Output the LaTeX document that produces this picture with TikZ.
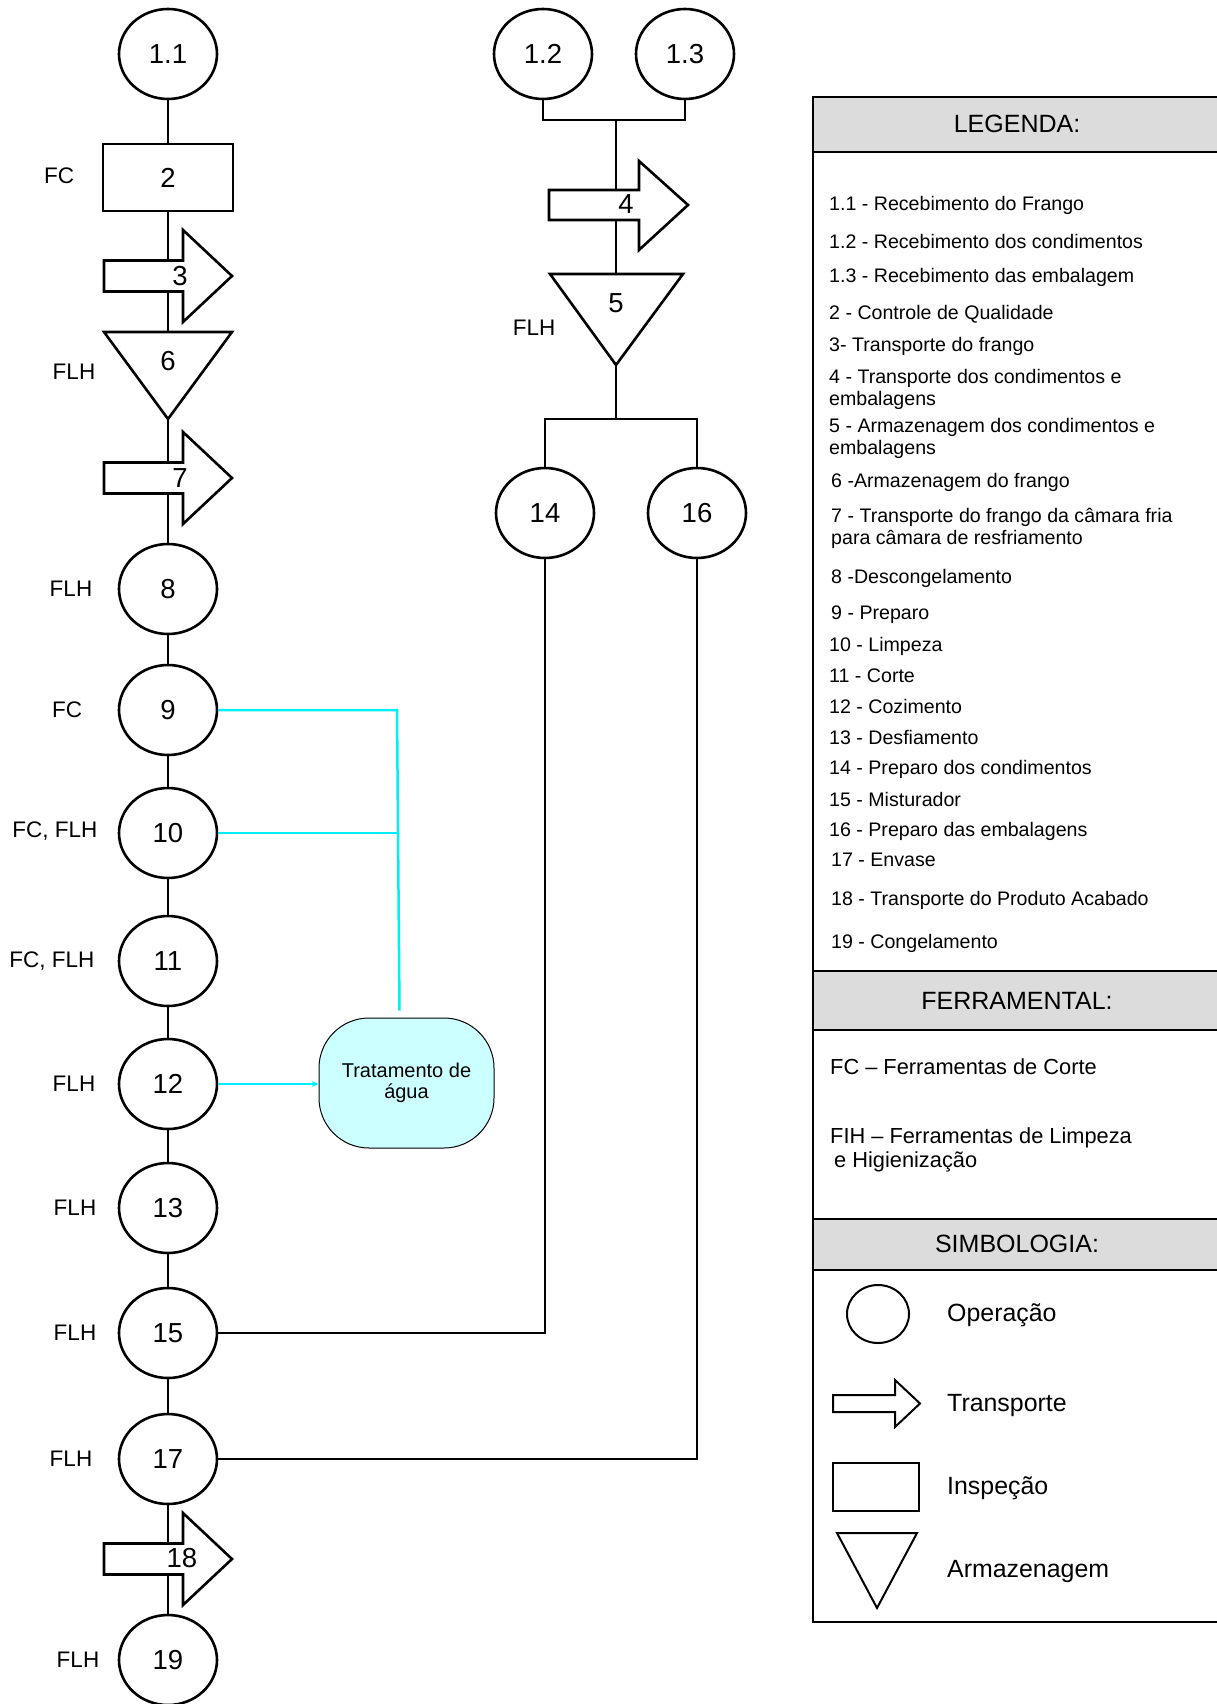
\documentclass[tikz,border=0pt]{standalone}
\usepackage{fontspec}
\setmainfont{Liberation Sans}
\usetikzlibrary{shapes.geometric,arrows.meta}
\definecolor{hdrgray}{RGB}{220,220,220}
\definecolor{watercyan}{RGB}{204,255,255}
\definecolor{linecyan}{RGB}{0,238,255}
\tikzset{
  op/.style={ellipse, draw, line width=2.6pt, minimum width=98pt, minimum height=90pt, inner sep=0pt, fill=white, font=\fontsize{27.5}{30}\selectfont},
  inspbox/.style={rectangle, draw, line width=2.6pt, minimum width=130pt, minimum height=67pt, inner sep=0pt, fill=white, font=\fontsize{27.5}{30}\selectfont},
  flow/.style={line width=2.6pt},
  shp/.style={draw, line width=2.6pt, fill=white, line join=miter},
  num/.style={inner sep=0pt, font=\fontsize{27.5}{30}\selectfont},
  lbl/.style={inner sep=0pt, font=\fontsize{22.5}{25}\selectfont},
  leg/.style={anchor=base west, inner sep=0pt, font=\fontsize{19.6}{21}\selectfont},
  ferr/.style={anchor=base west, inner sep=0pt, font=\fontsize{21.8}{24}\selectfont},
  hdr/.style={anchor=base, inner sep=0pt, font=\fontsize{25}{28}\selectfont},
  sym/.style={anchor=base west, inner sep=0pt, font=\fontsize{24.9}{28}\selectfont},
  panel/.style={line width=1.8pt},
  symshp/.style={draw, line width=2pt, fill=white, line join=miter},
  cyanline/.style={line width=2.5pt, draw=linecyan},
  transp/.pic={\draw[shp] (-64,-15.5) -- (15,-15.5) -- (15,-46) -- (64,0) -- (15,46) -- (15,15.5) -- (-64,15.5) -- cycle;}
}
\begin{document}
\begin{tikzpicture}[x=1pt,y=-1pt]
\useasboundingbox (0,0) rectangle (1217,1704);
\fill[white] (0,0) rectangle (1217,1704);

% ---------- left column nodes ----------
\node[op] (o1a) at (168,54) {1.1};
\node[inspbox] (b2) at (168,177.5) {2};
\coordinate (t6top) at (168,332);
\coordinate (t6bot) at (168,419);
\node[op] (o8) at (168,589) {8};
\node[op] (o9) at (168,710) {9};
\node[op] (o10) at (168,833) {10};
\node[op] (o11) at (168,961) {11};
\node[op] (o12) at (168,1084) {12};
\node[op] (o13) at (168,1208) {13};
\node[op] (o15) at (168,1333) {15};
\node[op] (o17) at (168,1459) {17};
\node[op] (o19) at (168,1660) {19};

% ---------- middle column nodes ----------
\node[op] (o1b) at (543,54) {1.2};
\node[op] (o1c) at (685,54) {1.3};
\coordinate (jt) at (616,120);
\coordinate (t5top) at (616,274);
\coordinate (t5bot) at (616,365);
\coordinate (js) at (616,419);
\node[op] (o14) at (545,513) {14};
\node[op] (o16) at (697,513) {16};

% ---------- water treatment ----------
\node[draw, line width=1pt, fill=watercyan, rounded corners=50pt, minimum width=175pt, minimum height=130pt, align=center, inner sep=0pt, font=\fontsize{20}{21.5}\selectfont] (tr) at (406.5,1083) {Tratamento de\\água};

% ---------- black connectors ----------
\draw[flow] (o1a) -- (b2);
\draw[flow] (b2) -- (t6top);
\draw[flow] (t6bot) -- (o8);
\draw[flow] (o8) -- (o9);
\draw[flow] (o9) -- (o10);
\draw[flow] (o10) -- (o11);
\draw[flow] (o11) -- (o12);
\draw[flow] (o12) -- (o13);
\draw[flow] (o13) -- (o15);
\draw[flow] (o15) -- (o17);
\draw[flow] (o17) -- (o19);
\draw[flow] (o1b.south) |- (jt) -| (o1c.south);
\draw[flow] (jt) -- (t5top);
\draw[flow] (t5bot) -- (js);
\draw[flow] (o14.north) |- (js) -| (o16.north);
\draw[flow] (o14.south) |- (o15.east);
\draw[flow] (o16.south) |- (o17.east);

% ---------- cyan connectors ----------
\coordinate (cj) at (397,710);
\draw[cyanline] (o9.east) -- (cj) -- ([shift={(-7,-7)}]tr.north);
\draw[cyanline] (o10.east) -- (o10.east -| cj);
\draw[cyanline, -{Stealth[length=7pt,width=6pt]}] (o12.east) -- (o12.east -| tr.west);

% ---------- triangles (storage) ----------
\draw[shp] (104,332) -- (232,332) -- (t6bot) -- cycle;
\node[num] (n6) at (168,361) {6};
\draw[shp] (550,274) -- (683,274) -- (t5bot) -- cycle;
\node[num] (n5) at (616,303) {5};

% ---------- transport arrows ----------
\pic at (168,276) {transp};
\node[num] (n3) at (180,276) {3};
\pic at (168,478) {transp};
\node[num] (n7) at (180,478) {7};
\pic at (168,1559) {transp};
\node[num] (n18) at (182,1558) {18};
\draw[shp] (549,190) -- (639,190) -- (639,161) -- (688,205) -- (639,250) -- (639,220) -- (549,220) -- cycle;
\node[num] (n4) at (626,204) {4};

% ---------- tool labels ----------
\node[lbl] (f2) at (59,176) {FC};
\node[lbl] (f6) at (74,372) {FLH};
\node[lbl] (f5) at (534,328) {FLH};
\node[lbl] (f8) at (71,589) {FLH};
\node[lbl] (f9) at (67,710) {FC};
\node[lbl] (f10) at (55,831) {FC, FLH};
\node[lbl] (f11) at (52,961) {FC, FLH};
\node[lbl] (f12) at (74,1084) {FLH};
\node[lbl] (f13) at (75,1208) {FLH};
\node[lbl] (f15) at (75,1333) {FLH};
\node[lbl] (f17) at (71,1459) {FLH};
\node[lbl] (f19) at (78,1660) {FLH};

% ---------- legend panel ----------
\fill[hdrgray] (813,97) rectangle (1240,152);
\fill[hdrgray] (813,971) rectangle (1240,1030);
\fill[hdrgray] (813,1219) rectangle (1240,1270);
\draw[panel] (1240,97) -- (813,97) -- (813,1622) -- (1240,1622);
\draw[panel] (813,152) -- (1240,152);
\draw[panel] (813,971) -- (1240,971);
\draw[panel] (813,1030) -- (1240,1030);
\draw[panel] (813,1219) -- (1240,1219);
\draw[panel] (813,1270) -- (1240,1270);

\node[hdr] (hleg) at (1017,133) {LEGENDA:};
\node[hdr] (hfer) at (1017,1009) {FERRAMENTAL:};
\node[hdr] (hsim) at (1017,1252.5) {SIMBOLOGIA:};

\node[leg] (l1a) at (829,211) {1.1 - Recebimento do Frango};
\node[leg] (l1b) at (829,248) {1.2 - Recebimento dos condimentos};
\node[leg] (l1c) at (829,282) {1.3 - Recebimento das embalagem};
\node[leg] (l2) at (829,319) {2 - Controle de Qualidade};
\node[leg] (l3) at (829,351) {3- Transporte do frango};
\node[leg] (l4a) at (829,383) {4 - Transporte dos condimentos e};
\node[leg] (l4b) at (829,405) {embalagens};
\node[leg] (l5a) at (829,432) {5 - Armazenagem dos condimentos e};
\node[leg] (l5b) at (829,454) {embalagens};
\node[leg] (l6) at (831,487) {6 -Armazenagem do frango};
\node[leg] (l7a) at (831,522) {7 - Transporte do frango da câmara fria};
\node[leg] (l7b) at (831,544) {para câmara de resfriamento};
\node[leg] (l8) at (831,583) {8 -Descongelamento};
\node[leg] (l9) at (831,619) {9 - Preparo};
\node[leg] (l10) at (829,651) {10 - Limpeza};
\node[leg] (l11) at (829,682) {11 - Corte};
\node[leg] (l12) at (829,713) {12 - Cozimento};
\node[leg] (l13) at (829,744) {13 - Desfiamento};
\node[leg] (l14) at (829,774) {14 - Preparo dos condimentos};
\node[leg] (l15) at (829,806) {15 - Misturador};
\node[leg] (l16) at (829,836) {16 - Preparo das embalagens};
\node[leg] (l17) at (831,866) {17 - Envase};
\node[leg] (l18) at (831,905) {18 - Transporte do Produto Acabado};
\node[leg] (l19) at (831,948) {19 - Congelamento};

\node[ferr] (ffc) at (830,1074) {FC – Ferramentas de Corte};
\node[ferr] (ffiha) at (830,1143) {FIH – Ferramentas de Limpeza};
\node[ferr] (ffihb) at (834,1167) {e Higienização};

% symbols
\node[ellipse, draw, line width=2pt, minimum width=62pt, minimum height=58pt, inner sep=0pt] (sop) at (878,1314) {};
\node[sym] (tsop) at (947,1321.5) {Operação};
\draw[symshp] (833,1395) -- (895,1395) -- (895,1380) -- (920,1403.5) -- (895,1427) -- (895,1412) -- (833,1412) -- cycle;
\node[sym] (tstr) at (947,1411) {Transporte};
\draw[symshp] (833,1463) rectangle (919,1511);
\node[sym] (tsin) at (947,1494) {Inspeção};
\draw[symshp] (837,1533) -- (917,1533) -- (877,1608) -- cycle;
\node[sym] (tsar) at (947,1577) {Armazenagem};
\end{tikzpicture}
\end{document}
